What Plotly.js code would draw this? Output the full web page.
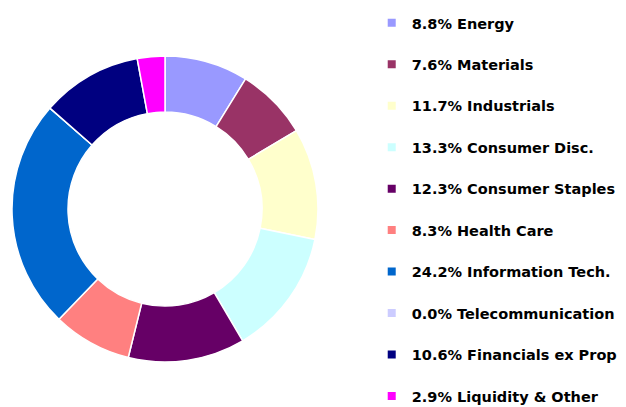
<!DOCTYPE html>
<html>
<head>
<meta charset="utf-8">
<script src="https://cdn.plot.ly/plotly-3.0.1.min.js"></script>
<style>html,body{margin:0;padding:0;background:#fff;}#chart{width:626px;height:407px;}</style>
</head>
<body>
<div id="chart"></div>
<script>
const categories = ["Energy", "Materials", "Industrials", "Consumer Disc.", "Consumer Staples", "Health Care", "Information Tech.", "Telecommunication", "Financials ex Prop", "Liquidity & Other"];
const values = [8.8, 7.6, 11.7, 13.3, 12.3, 8.3, 24.2, 0.0, 10.6, 2.9];
const colors = ["#9999FF", "#993366", "#FFFFCC", "#CCFFFF", "#660066", "#FF8080", "#0066CC", "#CCCCFF", "#000080", "#FF00FF"];

const legendLabels = categories.map((c, i) => values[i].toFixed(1) + "% " + c);

const traces = [{
  type: "pie",
  labels: legendLabels,
  values: values,
  sort: false,
  direction: "clockwise",
  rotation: 0,
  hole: 0.634,
  textinfo: "none",
  hoverinfo: "label",
  showlegend: false,
  marker: { colors: colors, line: { color: "#ffffff", width: 1.5 } },
  domain: { x: [12/626, 318/626], y: [45/407, 351/407] }
}];

legendLabels.forEach((lab, i) => {
  traces.push({
    type: "scatter",
    mode: "markers",
    x: [null], y: [null],
    name: lab,
    legendgroup: "g" + i,
    marker: { symbol: "square", size: 8, color: colors[i] },
    showlegend: true,
    hoverinfo: "skip"
  });
});

const layout = {
  width: 626, height: 407,
  margin: { l: 0, r: 0, t: 0, b: 0, autoexpand: false },
  paper_bgcolor: "#ffffff",
  plot_bgcolor: "#ffffff",
  xaxis: { visible: false, domain: [0.99, 1] },
  yaxis: { visible: false, domain: [0.99, 1] },
  showlegend: true,
  legend: {
    x: 0.5938, y: 0.983, xanchor: "left", yanchor: "top",
    font: { family: "DejaVu Sans", size: 14.5, color: "#000000", weight: "bold" },
    tracegroupgap: 19.6,
    itemwidth: 30,
    maxheight: 600,
    bgcolor: "rgba(0,0,0,0)",
    traceorder: "grouped"
  }
};

Plotly.newPlot("chart", traces, layout, { displayModeBar: false, staticPlot: true });
</script>
</body>
</html>
